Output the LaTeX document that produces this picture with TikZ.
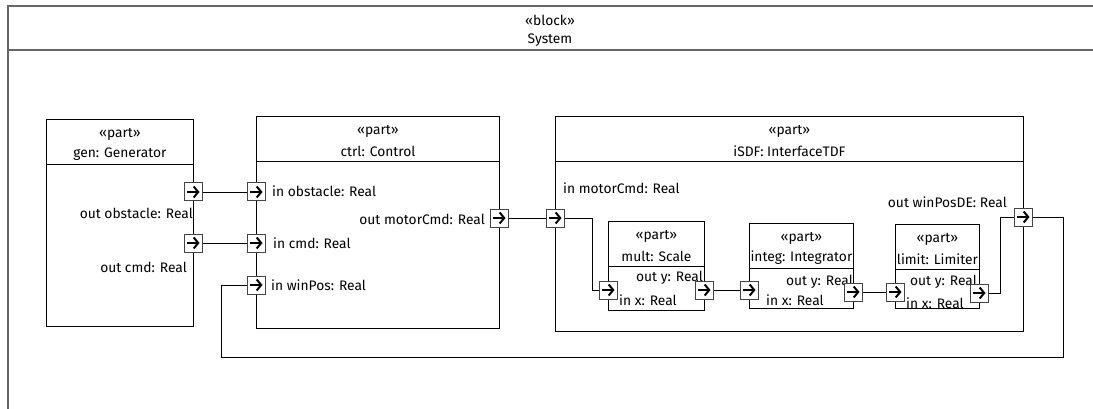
\documentclass[tikz,border=0pt]{standalone}
\usepackage{fontspec}
\setmainfont{Fira Sans}
\usetikzlibrary{positioning, arrows.meta}
\definecolor{frameGray}{HTML}{666666}
\definecolor{portGray}{HTML}{444444}

\begin{document}
\begin{tikzpicture}[
  x=1pt, y=-1pt,
  every node/.style={font=\fontsize{13.8}{16}\selectfont, inner sep=0pt},
  part/.style={
    draw,
    line width=0.9pt,
    anchor=north west,
    inner sep=0pt
  },
  sep/.style={draw, line width=0.9pt},
  port/.style={
    draw=portGray,
    fill=white,
    line width=1pt,
    minimum size=18pt,
    inner sep=0pt,
    path picture={\draw[black, line width=2pt, -{Straight Barb[length=4.5pt, width=11pt]}]
      ([xshift=3pt]path picture bounding box.west) -- ([xshift=-2.5pt]path picture bounding box.east);}
  },
  wire/.style={draw, line width=0.9pt},
  lbl/.style={anchor=west},
  rlbl/.style={anchor=east}
]

\useasboundingbox (0,0) rectangle (1093,409);
\clip (0,0) rectangle (1093,409);

% outer block
\node[part, draw=frameGray, line width=2pt, minimum width=1200pt, minimum height=500pt] (sys) at (7,5) {};
\draw[frameGray, line width=2pt] (7,50) -- (1100,50);
\node at (550,20) {«block»};
\node at (550,40) {System};

% parts
\node[part, minimum width=147pt, minimum height=207pt] (gen) at (46,119) {};
\node[part, minimum width=243pt, minimum height=212pt] (ctrl) at (256,116) {};
\node[part, minimum width=468pt, minimum height=215pt] (isdf) at (555,116) {};
\node[part, minimum width=96pt, minimum height=89pt] (mult) at (608,221) {};
\node[part, minimum width=104pt, minimum height=85pt] (integ) at (749,223) {};
\node[part, minimum width=84pt, minimum height=84pt] (limit) at (895,224) {};

\draw[sep] ([yshift=-45pt]gen.north west) -- ([yshift=-45pt]gen.north east);
\draw[sep] ([yshift=-45pt]ctrl.north west) -- ([yshift=-45pt]ctrl.north east);
\draw[sep] ([yshift=-45pt]isdf.north west) -- ([yshift=-45pt]isdf.north east);
\draw[sep] ([yshift=-45pt]mult.north west) -- ([yshift=-45pt]mult.north east);
\draw[sep] ([yshift=-45pt]integ.north west) -- ([yshift=-45pt]integ.north east);
\draw[sep] ([yshift=-45pt]limit.north west) -- ([yshift=-45pt]limit.north east);

\node at ([yshift=-15pt]gen.north) {«part»};
\node at ([yshift=-35pt]gen.north) {gen: Generator};
\node at ([yshift=-15pt]ctrl.north) {«part»};
\node at ([yshift=-35pt]ctrl.north) {ctrl: Control};
\node at ([yshift=-15pt]isdf.north) {«part»};
\node at ([yshift=-35pt]isdf.north) {iSDF: InterfaceTDF};
\node at ([yshift=-15pt]mult.north) {«part»};
\node at ([yshift=-35pt]mult.north) {mult: Scale};
\node at ([yshift=-15pt]integ.north) {«part»};
\node at ([yshift=-35pt]integ.north) {integ: Integrator};
\node at ([yshift=-15pt]limit.north) {«part»};
\node at ([yshift=-35pt]limit.north) {limit: Limiter};

% port labels
\node[rlbl] at (193,213) {out obstacle: Real};
\node[rlbl] at (187,267) {out cmd: Real};
\node[lbl] at (272,191) {in obstacle: Real};
\node[lbl] at (273,243) {in cmd: Real};
\node[lbl] at (271,285) {in winPos: Real};
\node[rlbl] at (485,219) {out motorCmd: Real};
\node[lbl] at (563,188) {in motorCmd: Real};
\node[rlbl] at (1007,202) {out winPosDE: Real};
\node[rlbl] at (703,278) {out y: Real};
\node[lbl] at (619,300) {in x: Real};
\node[rlbl] at (853,282) {out y: Real};
\node[lbl] at (766,300) {in x: Real};
\node[rlbl] at (977,282) {out y: Real};
\node[lbl] at (906,303) {in x: Real};

% ports
\node[port] (genObst) at (193,192) {};
\node[port] (genCmd) at (193,243) {};
\node[port] (ctrlObst) at (256,192) {};
\node[port] (ctrlCmd) at (256,243) {};
\node[port] (ctrlWinPos) at (256,285) {};
\node[port] (ctrlMotor) at (499,218) {};
\node[port] (isdfMotor) at (555,218) {};
\node[port] (isdfWinPos) at (1023,217) {};
\node[port] (multIn) at (608,290) {};
\node[port] (multOut) at (704,290) {};
\node[port] (integIn) at (749,290) {};
\node[port] (integOut) at (853,292) {};
\node[port] (limitIn) at (895,292) {};
\node[port] (limitOut) at (979,293) {};

\coordinate (fbR) at (1063,357);
\coordinate (fbL) at (221,357);

% connectors
\draw[wire] (genObst.east) -- (ctrlObst.west);
\draw[wire] (genCmd.east) -- (ctrlCmd.west);
\draw[wire] (ctrlMotor.east) -- (isdfMotor.west);
\draw[wire] (isdfMotor.east) -- ++(28,0) |- (multIn.west);
\draw[wire] (multOut.east) -- (integIn.west);
\draw[wire] (integOut.east) -- (limitIn.west);
\draw[wire] (limitOut.east) -- ++(12,0) |- (isdfWinPos.west);
\draw[wire] (isdfWinPos.east) -| (fbR) -- (fbL) |- (ctrlWinPos.west);

\end{tikzpicture}
\end{document}
